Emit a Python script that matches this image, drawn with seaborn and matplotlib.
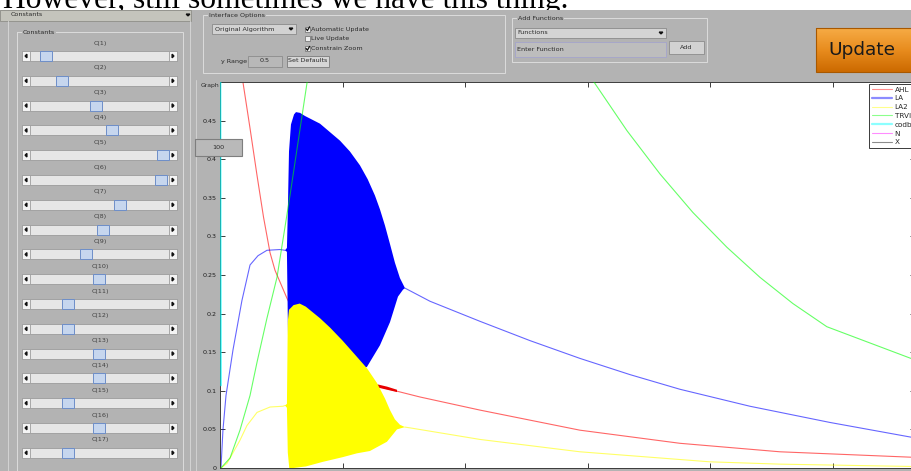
import numpy as np
import matplotlib
matplotlib.use("Agg")
import matplotlib.pyplot as plt
import seaborn as sns
from matplotlib.lines import Line2D
from matplotlib.patches import Rectangle, Polygon
from matplotlib.colors import LinearSegmentedColormap

# ---------------- values ----------------
# time axis has ticks every 100, concentration axis runs 0 .. 0.5
ahl_t = [14.0, 18.8, 24.5, 30.2, 35.5, 40.8, 44.9, 54.6, 65.3, 89.7, 114.2, 128.1,
         163.1, 212.1, 293.6, 375.2, 456.8, 563.6, 570.0]
ahl_v = [0.560, 0.499, 0.440, 0.379, 0.325, 0.279, 0.256, 0.220, 0.185, 0.140, 0.115, 0.106,
         0.092, 0.075, 0.049, 0.032, 0.021, 0.014, 0.014]
ahl_osc_t = [128.0, 136.0, 144.0]
ahl_osc_hi = [0.109, 0.106, 0.102]
ahl_osc_lo = [0.105, 0.102, 0.099]

la_rise_t = [0.8, 2.4, 4.9, 10.6, 17.9, 24.5, 31.0, 38.3, 48.9, 53.0]
la_rise_v = [0.0, 0.049, 0.094, 0.153, 0.217, 0.263, 0.275, 0.282, 0.283, 0.282]
la_hi_t = [53.0, 54.6, 55.3, 56.3, 57.9, 60.4, 62.0, 65.3, 69.3, 81.6, 97.9, 106.0, 114.2,
           120.5, 126.4, 130.5, 134.6, 138.7, 142.7, 146.8, 150.9]
la_hi_v = [0.282, 0.285, 0.330, 0.410, 0.445, 0.458, 0.461, 0.460, 0.456, 0.446, 0.424, 0.410, 0.392,
           0.374, 0.353, 0.335, 0.314, 0.290, 0.266, 0.246, 0.233]
la_lo_t = [53.0, 54.6, 55.5, 56.5, 70.0, 90.0, 111.7, 119.9, 130.5, 138.7, 145.2, 149.3, 150.9]
la_lo_v = [0.282, 0.280, 0.170, 0.090, 0.080, 0.100, 0.125, 0.131, 0.159, 0.189, 0.222, 0.231, 0.233]
la_decay_t = [150.9, 171.3, 212.1, 252.9, 293.6, 334.4, 375.2, 432.3, 497.6, 563.6, 570.0]
la_decay_v = [0.233, 0.216, 0.190, 0.165, 0.142, 0.121, 0.102, 0.080, 0.059, 0.040, 0.039]

la2_rise_t = [0.8, 5.7, 10.0, 16.3, 22.0, 30.2, 40.8, 51.4, 53.0]
la2_rise_v = [0.0, 0.006, 0.018, 0.036, 0.055, 0.072, 0.079, 0.080, 0.081]
la2_hi_t = [53.0, 54.6, 55.3, 56.3, 60.0, 65.0, 70.0, 81.6, 89.7, 100.0, 111.7, 120.0,
            128.1, 134.6, 138.7, 142.7, 146.8, 150.9]
la2_hi_v = [0.081, 0.083, 0.190, 0.205, 0.211, 0.213, 0.209, 0.194, 0.182, 0.165, 0.144, 0.129,
            0.110, 0.090, 0.075, 0.063, 0.056, 0.053]
la2_lo_t = [53.0, 54.6, 55.3, 56.5, 60.0, 70.0, 84.0, 100.0, 111.7, 122.3, 136.2, 144.4, 150.9]
la2_lo_v = [0.081, 0.078, 0.020, 0.0, 0.0, 0.002, 0.008, 0.014, 0.019, 0.022, 0.034, 0.050, 0.053]
la2_decay_t = [150.9, 155.0, 212.1, 293.6, 375.2, 399.7, 456.8, 563.6, 570.0]
la2_decay_v = [0.053, 0.052, 0.037, 0.021, 0.011, 0.008, 0.005, 0.002, 0.002]

trvi_t = [0.8, 8.2, 16.3, 24.5, 30.2, 38.3, 46.5, 57.1, 71.0, 90.0, 150.0, 230.0, 280.0,
          304.2, 332.0, 358.9, 385.8, 413.5, 440.5, 467.4, 495.1, 563.6, 570.0]
trvi_v = [0.0, 0.013, 0.049, 0.094, 0.137, 0.194, 0.247, 0.353, 0.499, 0.680, 0.950, 0.850, 0.620,
          0.502, 0.437, 0.381, 0.331, 0.286, 0.247, 0.213, 0.183, 0.142, 0.140]

codb_t = [0.3, 0.5, 0.8]
codb_v = [0.600, 0.300, 0.107]

series_names = ["AHL", "LA", "LA2", "TRVI", "codb", "N", "X"]
x_ticks = [0, 100, 200, 300, 400, 500]
y_ticks = [0, 0.05, 0.1, 0.15, 0.2, 0.25, 0.3, 0.35, 0.4, 0.45]
y_labels = ["0", "0.05", "0.1", "0.15", "0.2", "0.25", "0.3", "0.35", "0.4", "0.45"]

slider_names = [f"C({i})" for i in range(1, 18)]
slider_values = [0.08, 0.20, 0.47, 0.59, 0.99, 0.98, 0.66, 0.52, 0.39, 0.49,
                 0.25, 0.25, 0.49, 0.49, 0.25, 0.49, 0.25]
option_names = ["Automatic Update", "Live Update", "Constrain Zoom"]
option_checked = [True, False, True]
caption = "However, still sometimes we have this thing."

# ---------------- figure ----------------
W, H = 911, 471
GREY = "#b3b3b3"
sns.set_style("white")
plt.rcParams["font.family"] = ["DejaVu Sans"]

fig = plt.figure(figsize=(W / 100, H / 100), dpi=100)
fig.patch.set_facecolor("white")

bg = fig.add_axes([0, 0, 1, 1], zorder=0)
fg = fig.add_axes([0, 0, 1, 1], zorder=5)


def rect(x, y, w, h, fc, ec="none", lw=0.6, z=2, on=None, **kw):
    (on or bg).add_patch(Rectangle((x, y), w, h, facecolor=fc, edgecolor=ec,
                                   linewidth=lw, zorder=z, **kw))


def txt(x, y, s, size=4.6, ha="left", color="#2a2a2a", on=None, **kw):
    (on or bg).text(x, y, s, fontsize=size, ha=ha, va="center", color=color, zorder=6, **kw)


def tri(cx, cy, d, s=2.0, on=None):
    if d == "down":
        pts = [[cx - s, cy - s / 2], [cx + s, cy - s / 2], [cx, cy + s / 2]]
    elif d == "left":
        pts = [[cx - s / 2, cy], [cx + s / 2, cy - s], [cx + s / 2, cy + s]]
    else:
        pts = [[cx + s / 2, cy], [cx - s / 2, cy - s], [cx - s / 2, cy + s]]
    (on or bg).add_patch(Polygon(pts, closed=True, color="#111111", zorder=5))


def group(x, y, w, h, title):
    rect(x, y, w, h, "none", "#dcdcdc", lw=0.7)
    txt(x + 6, y, title, bbox=dict(fc=GREY, ec="none", pad=0.6))


# caption cut off by the GUI screenshot
cap = bg.text(3, 8.0, caption, family="Liberation Serif", fontsize=20, va="baseline",
              ha="left", color="black", zorder=0.5)
rect(0, 9.5, W, H, GREY, z=1)

# left "Constants" panel
rect(0, 9.5, 191, 11, "#c4c4bc", "#8e8e88")
txt(11, 15, "Constants")
tri(188, 15, "down", 1.8)
bg.plot([8, 8], [21, H], color="#d4d4d4", lw=0.7, zorder=2)
bg.plot([190, 190], [21, H], color="#d4d4d4", lw=0.7, zorder=2)
group(17, 32, 166, 460, "Constants")

for i, (name, val) in enumerate(zip(slider_names, slider_values)):
    cy = 56 + 24.8 * i
    txt(100, cy - 13, name, ha="center", color="#404040")
    rect(22, cy - 5, 155, 10, "#e6e6e6", "#9c9c9c")
    rect(22, cy - 5, 8, 10, "#f4f4f4", "#9c9c9c", z=3)
    rect(169, cy - 5, 8, 10, "#f4f4f4", "#9c9c9c", z=3)
    tri(26, cy, "left", 1.8)
    tri(173, cy, "right", 1.8)
    tx = 36 + 128 * val
    rect(tx - 6, cy - 5, 12, 10, "#c6d6ee", "#6d8ec8", lw=0.7, z=4)

# interface options
group(203, 15, 302, 58, "Interface Options")
rect(212, 24, 84, 10, "#d2d2d2", "#8a8a8a")
txt(215, 29, "Original Algorithm")
tri(291, 29, "down", 1.8)
for i, (name, on_) in enumerate(zip(option_names, option_checked)):
    y = 29 + 9.8 * i
    rect(305, y - 2.5, 5, 5, "#eeeeee", "#7a7a7a", z=3)
    if on_:
        bg.plot([306, 307.4, 309.6], [y - 0.2, y + 1.6, y - 2.2], color="#111111", lw=0.9, zorder=4)
    txt(311, y, name)
txt(221, 61, "y Range")
rect(248, 55.5, 34, 11, "#b8b8b8", "#8c8c8c")
txt(265, 61, "0.5", ha="center")
rect(287, 55.5, 42, 11, "#d6d6d6", "#7c7c7c")
txt(308, 61, "Set Defaults", ha="center")

# add functions
group(512, 18, 195, 44, "Add Functions")
rect(515, 28, 151, 10, "#d4d4d4", "#8a8a8a")
txt(517, 33, "Functions")
tri(661, 33, "down", 1.8)
rect(515, 42, 151, 15, "#bdbdbd", "#a4a4cc")
txt(517, 49.5, "Enter Function")
rect(669, 41, 35, 13, "#d2d2d2", "#8c8c8c")
txt(686.5, 47.5, "Add", ha="center")

# update button
grad = np.linspace(0, 1, 50)[:, None]
upd = LinearSegmentedColormap.from_list("upd", ["#f6ab45", "#e88c1e", "#cc6a00"])
bg.imshow(grad, cmap=upd, extent=(816, 916, 72, 28), aspect="auto", zorder=2)
rect(816, 28, 100, 44, "none", "#a85800", lw=0.8, z=3)
txt(862, 50, "Update", size=13.3, ha="center", color="#1a1a1a")

# graph frame
bg.plot([196, 196], [80, H], color="#d0d0d0", lw=0.7, zorder=2)
txt(201, 85, "Graph", size=4.4, on=fg, bbox=dict(fc=GREY, ec="none", pad=0.5))
rect(195, 139, 47, 17, "#b9b9b9", "#7e7e7e", lw=0.8, on=fg)
txt(218.5, 147.5, "100", ha="center", on=fg)

# ---------------- the plot ----------------
ax = fig.add_axes([220 / W, (H - 468) / H, (915 - 220) / W, (468 - 82) / H], zorder=2)
ax.set_facecolor("white")

kw = dict(ax=ax, sort=False, estimator=None, lw=0.8, alpha=0.6, legend=False)
sns.lineplot(x=ahl_t, y=ahl_v, color="#ff0000", zorder=2, **kw)
ax.fill_between(ahl_osc_t, ahl_osc_lo, ahl_osc_hi, color="#e80000", lw=0, zorder=2.2)
sns.lineplot(x=la_rise_t, y=la_rise_v, color="#0000ff", zorder=2.5, **kw)
sns.lineplot(x=la_decay_t, y=la_decay_v, color="#0000ff", zorder=2.5, **kw)
sns.lineplot(x=la2_rise_t, y=la2_rise_v, color="#ffff00", zorder=2.5, **kw)
sns.lineplot(x=la2_decay_t, y=la2_decay_v, color="#ffff00", zorder=2.5, **kw)
ax.fill(np.r_[la_hi_t, la_lo_t[::-1]], np.r_[la_hi_v, la_lo_v[::-1]], color="#0000ff", lw=0, zorder=3)
ax.fill(np.r_[la2_hi_t, la2_lo_t[::-1]], np.r_[la2_hi_v, la2_lo_v[::-1]], color="#ffff00", lw=0, zorder=4)
sns.lineplot(x=trvi_t, y=trvi_v, color="#00ff00", zorder=5, **kw)
sns.lineplot(x=codb_t, y=codb_v, color="#00ffff", zorder=5, ax=ax, sort=False,
             estimator=None, lw=1.4, alpha=0.6, legend=False)

ax.set_xlim(0, 567)
ax.set_ylim(0, 0.5)
ax.set_xticks(x_ticks)
ax.set_yticks(y_ticks)
ax.set_yticklabels(y_labels)
ax.set_xlabel("")
ax.set_ylabel("")
ax.grid(False)
ax.tick_params(axis="both", direction="in", length=3.6, width=0.7, color="#3c3c3c",
               labelsize=4.6, labelcolor="#1e1e1e", pad=2.2, top=True, right=True,
               bottom=True, left=True, labelbottom=False, labelright=False)
for s in ax.spines.values():
    s.set_color("#3c3c3c")
    s.set_linewidth(0.7)

leg_colors = ["#ff0000", "#0000ff", "#ffff00", "#00ff00", "#00ffff", "#ff00ff", "#000000"]
leg_widths = [0.8, 1.6, 0.8, 0.8, 1.6, 0.8, 0.8]
handles = [Line2D([], [], color=c, lw=w, alpha=0.45) for c, w in zip(leg_colors, leg_widths)]
leg = ax.legend(handles, series_names, loc="upper left", bbox_to_anchor=(869 / W, 1 - 84 / H),
                bbox_transform=fig.transFigure, fontsize=5.2, frameon=True, fancybox=False,
                edgecolor="#3a3a3a", framealpha=1, borderpad=0.35, labelspacing=0.38,
                handlelength=2.9, handletextpad=0.3, borderaxespad=0)
leg.get_frame().set_linewidth(0.7)

for a in (bg, fg):
    a.set_xlim(0, W)
    a.set_ylim(H, 0)
    a.axis("off")

# stretch the caption to its width in the screenshot
fig.canvas.draw()
w = cap.get_window_extent().width
cap.set_fontsize(20 * 566 / w)

fig.savefig("out.png", dpi=100)
